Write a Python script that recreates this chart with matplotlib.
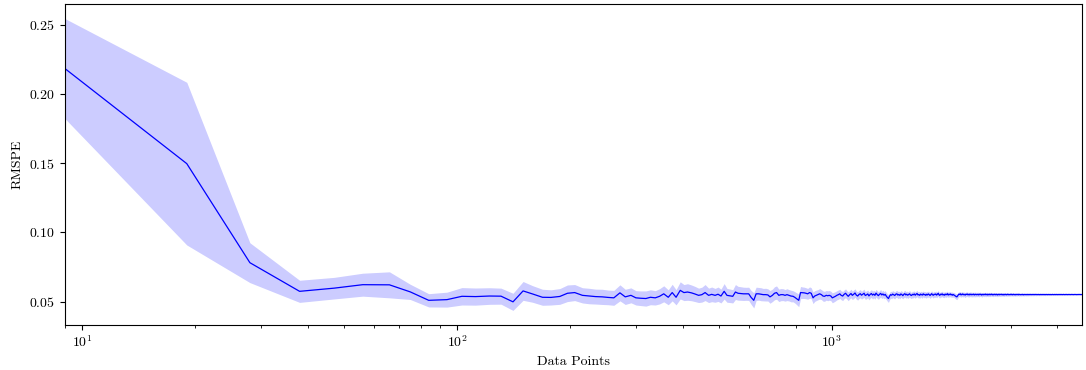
import numpy as np
import matplotlib
matplotlib.use("Agg")
import matplotlib.pyplot as plt

plt.rcParams["font.family"] = "serif"
plt.rcParams["font.serif"] = ["cmr10"]
plt.rcParams["mathtext.fontset"] = "cm"
plt.rcParams["axes.formatter.use_mathtext"] = True
plt.rcParams["font.size"] = 10

# RMSPE media por numero de pontos
rmspe = [
    0.2183, 0.1497, 0.0781, 0.0574, 0.0597, 0.0622, 0.0621, 0.0570, 0.0509, 0.0514, 0.0538,
    0.0536, 0.0540, 0.0539, 0.0498, 0.0577, 0.0555, 0.0531, 0.0530, 0.0537, 0.0560, 0.0565,
    0.0545, 0.0540, 0.0536, 0.0534, 0.0530, 0.0527, 0.0563, 0.0534, 0.0545, 0.0527,
    0.0524, 0.0522, 0.0531, 0.0527, 0.0538, 0.0556, 0.0531, 0.0565, 0.0531, 0.0581,
    0.0565, 0.0569, 0.0563, 0.0555, 0.0545, 0.0550, 0.0565, 0.0545, 0.0552, 0.0545,
    0.0553, 0.0540, 0.0574, 0.0545, 0.0542, 0.0538, 0.0569, 0.0560, 0.0558, 0.0556,
    0.0556, 0.0556, 0.0530, 0.0509, 0.0556, 0.0556, 0.0553, 0.0550, 0.0550, 0.0548,
    0.0534, 0.0545, 0.0560, 0.0565, 0.0545,
    0.0550, 0.0550, 0.0545, 0.0550, 0.0545, 0.0540, 0.0538, 0.0530, 0.0520, 0.0509,
    0.0565, 0.0564, 0.0563, 0.0560, 0.0556, 0.0565, 0.0560, 0.0527, 0.0540, 0.0545,
    0.0550, 0.0556, 0.0550, 0.0540, 0.0538, 0.0545, 0.0542, 0.0545, 0.0540, 0.0527,
    0.0532, 0.0538, 0.0545, 0.0550,
    0.0556, 0.0545, 0.0540, 0.0552, 0.0560, 0.0548, 0.0538, 0.0550, 0.0558, 0.0545,
    0.0553, 0.0562, 0.0547, 0.0540, 0.0551, 0.0557, 0.0546, 0.0553, 0.0560, 0.0544,
    0.0549, 0.0555, 0.0541, 0.0552, 0.0558, 0.0547, 0.0554, 0.0545, 0.0561, 0.0550,
    0.0543, 0.0553, 0.0559, 0.0548, 0.0555, 0.0546, 0.0552, 0.0540, 0.0530, 0.0522,
    0.0538, 0.0550, 0.0546, 0.0554, 0.0549, 0.0544, 0.0553, 0.0556, 0.0547, 0.0551,
    0.0545, 0.0555, 0.0550, 0.0543, 0.0552, 0.0557, 0.0548, 0.0553, 0.0546, 0.0551,
    0.0556, 0.0547, 0.0544, 0.0552, 0.0549, 0.0555, 0.0546, 0.0553, 0.0558, 0.0548,
    0.0551, 0.0545, 0.0554, 0.0550, 0.0547, 0.0556, 0.0549, 0.0552, 0.0545, 0.0553,
    0.0548, 0.0555, 0.0550, 0.0544, 0.0551, 0.0557, 0.0549, 0.0546, 0.0553, 0.0550,
    0.0555, 0.0547, 0.0552, 0.0560, 0.0549, 0.0545, 0.0553, 0.0550, 0.0556, 0.0548,
    0.0551, 0.0546, 0.0554, 0.0549, 0.0552, 0.0557, 0.0547, 0.0553, 0.0550, 0.0555,
    0.0548, 0.0552, 0.0546, 0.0551, 0.0547, 0.0543, 0.0540, 0.0536, 0.0534, 0.0541,
    0.0549, 0.0554, 0.0551, 0.0556, 0.0548, 0.0552, 0.0555, 0.0549, 0.0553, 0.0550,
    0.0547, 0.0553, 0.0551, 0.0555, 0.0549, 0.0552, 0.0548, 0.0554, 0.0550, 0.0553,
    0.0549, 0.0552, 0.0550, 0.0554, 0.0548, 0.0551, 0.0553, 0.0549, 0.0552, 0.0550,
    0.0553, 0.0548, 0.0551, 0.0554, 0.0550, 0.0552, 0.0547, 0.0551, 0.0553, 0.0549,
    0.0552, 0.0550, 0.0554, 0.0549, 0.0551, 0.0553, 0.0548, 0.0552, 0.0550, 0.0553,
    0.0549, 0.0551, 0.0554, 0.0550, 0.0552, 0.0548, 0.0551, 0.0553, 0.0550, 0.0552,
    0.0549, 0.0553, 0.0551, 0.0548, 0.0552, 0.0550, 0.0553, 0.0549, 0.0551, 0.0552,
    0.0550, 0.0553, 0.0549, 0.0551, 0.0552, 0.0548, 0.0551, 0.0553, 0.0550, 0.0552,
    0.0549, 0.0551, 0.0553, 0.0550, 0.0552, 0.0549, 0.0551, 0.0552, 0.0550, 0.0553,
    0.0550, 0.0552, 0.0549, 0.0551, 0.0553, 0.0550, 0.0551, 0.0549, 0.0552, 0.0550,
    0.0552, 0.0550, 0.0551, 0.0553, 0.0549, 0.0551, 0.0552, 0.0550, 0.0551, 0.0549,
    0.0551, 0.0552, 0.0550, 0.0552, 0.0549, 0.0551, 0.0550, 0.0552, 0.0551, 0.0550,
    0.0551, 0.0550, 0.0552, 0.0551, 0.0549, 0.0551, 0.0552, 0.0550, 0.0551, 0.0552,
    0.0550, 0.0551, 0.0550, 0.0552, 0.0551, 0.0550, 0.0551, 0.0552, 0.0550, 0.0551,
    0.0552, 0.0551, 0.0550, 0.0551, 0.0552, 0.0550, 0.0551, 0.0551, 0.0552, 0.0550,
    0.0551, 0.0550, 0.0552, 0.0551, 0.0550, 0.0551, 0.0552, 0.0551, 0.0550, 0.0551,
    0.0551, 0.0552, 0.0550, 0.0551, 0.0551, 0.0550, 0.0552, 0.0551, 0.0551, 0.0550,
    0.0551, 0.0552, 0.0551, 0.0550, 0.0551, 0.0551, 0.0552, 0.0550, 0.0551, 0.0551,
    0.0550, 0.0551, 0.0552, 0.0551, 0.0551, 0.0550, 0.0551, 0.0551, 0.0552, 0.0551,
    0.0550, 0.0551, 0.0551, 0.0552, 0.0551, 0.0550, 0.0551, 0.0551, 0.0551, 0.0552,
    0.0551, 0.0550, 0.0551, 0.0551, 0.0552, 0.0551, 0.0551, 0.0550, 0.0551, 0.0551,
    0.0551, 0.0552, 0.0551, 0.0551, 0.0550, 0.0551, 0.0551, 0.0551, 0.0552, 0.0551,
    0.0551, 0.0550, 0.0551, 0.0551, 0.0551, 0.0551, 0.0552, 0.0551, 0.0551, 0.0550,
    0.0551, 0.0551, 0.0551, 0.0551, 0.0552, 0.0551, 0.0551, 0.0551, 0.0550, 0.0551,
    0.0551, 0.0551, 0.0551, 0.0552, 0.0551, 0.0551, 0.0551, 0.0551, 0.0550, 0.0551,
    0.0551, 0.0551, 0.0551, 0.0551, 0.0551, 0.0552, 0.0551, 0.0551, 0.0551, 0.0551,
    0.0551, 0.0551, 0.0551, 0.0551, 0.0551,
]

# desvio padrao (meia largura da faixa)
desvio = [
    0.0362, 0.0588, 0.0144, 0.0080, 0.0078, 0.0083, 0.0094, 0.0055, 0.0048, 0.0054, 0.0063,
    0.0062, 0.0060, 0.0058, 0.0062, 0.0068, 0.0060, 0.0058, 0.0055, 0.0057, 0.0060, 0.0058,
    0.0055, 0.0056, 0.0054, 0.0055, 0.0053, 0.0054, 0.0058, 0.0055, 0.0054, 0.0052,
    0.0053, 0.0055, 0.0054, 0.0052, 0.0055, 0.0058, 0.0054, 0.0060, 0.0055, 0.0062,
    0.0058, 0.0060, 0.0057, 0.0055, 0.0052, 0.0054, 0.0058, 0.0052, 0.0053, 0.0050,
    0.0052, 0.0050, 0.0056, 0.0050, 0.0049, 0.0048, 0.0054, 0.0050, 0.0049, 0.0048,
    0.0047, 0.0048, 0.0050, 0.0055, 0.0048, 0.0046, 0.0047, 0.0045, 0.0046, 0.0044,
    0.0046, 0.0045, 0.0047, 0.0048, 0.0045,
    0.0044, 0.0043, 0.0042, 0.0043, 0.0041, 0.0042, 0.0040, 0.0041, 0.0043, 0.0046,
    0.0044, 0.0042, 0.0041, 0.0040, 0.0039, 0.0041, 0.0040, 0.0042, 0.0039, 0.0038,
    0.0037, 0.0038, 0.0036, 0.0037, 0.0036, 0.0035, 0.0036, 0.0035, 0.0034, 0.0036,
    0.0035, 0.0034, 0.0033, 0.0034,
    0.0033, 0.0032, 0.0033, 0.0031, 0.0032, 0.0031, 0.0032, 0.0030, 0.0031, 0.0030,
    0.0031, 0.0030, 0.0029, 0.0030, 0.0029, 0.0030, 0.0028, 0.0029, 0.0030, 0.0028,
    0.0029, 0.0028, 0.0029, 0.0027, 0.0028, 0.0029, 0.0027, 0.0028, 0.0027, 0.0028,
    0.0026, 0.0027, 0.0028, 0.0026, 0.0027, 0.0026, 0.0027, 0.0026, 0.0027, 0.0028,
    0.0026, 0.0025, 0.0026, 0.0025, 0.0026, 0.0025, 0.0024, 0.0025, 0.0026, 0.0024,
    0.0025, 0.0024, 0.0025, 0.0023, 0.0024, 0.0025, 0.0024, 0.0023, 0.0024, 0.0023,
    0.0024, 0.0023, 0.0022, 0.0023, 0.0024, 0.0022, 0.0023, 0.0022, 0.0023, 0.0022,
    0.0023, 0.0022, 0.0021, 0.0022, 0.0023, 0.0021, 0.0022, 0.0021, 0.0022, 0.0021,
    0.0022, 0.0021, 0.0020, 0.0021, 0.0022, 0.0020, 0.0021, 0.0020, 0.0021, 0.0020,
    0.0021, 0.0020, 0.0019, 0.0020, 0.0021, 0.0019, 0.0020, 0.0019, 0.0020, 0.0019,
    0.0020, 0.0019, 0.0018, 0.0019, 0.0020, 0.0019, 0.0018, 0.0019, 0.0018, 0.0019,
    0.0018, 0.0019, 0.0018, 0.0017, 0.0018, 0.0019, 0.0020, 0.0021, 0.0020, 0.0019,
    0.0018, 0.0017, 0.0018, 0.0017, 0.0018, 0.0017, 0.0018, 0.0017, 0.0016, 0.0017,
    0.0018, 0.0017, 0.0016, 0.0017, 0.0016, 0.0017, 0.0016, 0.0017, 0.0016, 0.0017,
    0.0016, 0.0017, 0.0016, 0.0015, 0.0016, 0.0017, 0.0016, 0.0015, 0.0016, 0.0015,
    0.0016, 0.0015, 0.0016, 0.0015, 0.0014, 0.0015, 0.0016, 0.0015, 0.0014, 0.0015,
    0.0014, 0.0015, 0.0014, 0.0015, 0.0014, 0.0015, 0.0014, 0.0013, 0.0014, 0.0015,
    0.0014, 0.0013, 0.0014, 0.0013, 0.0014, 0.0013, 0.0014, 0.0013, 0.0014, 0.0013,
    0.0013, 0.0012, 0.0013, 0.0014, 0.0013, 0.0012, 0.0013, 0.0012, 0.0013, 0.0012,
    0.0013, 0.0012, 0.0011, 0.0012, 0.0013, 0.0012, 0.0011, 0.0012, 0.0011, 0.0012,
    0.0011, 0.0012, 0.0011, 0.0012, 0.0011, 0.0010, 0.0011, 0.0012, 0.0011, 0.0010,
    0.0011, 0.0010, 0.0011, 0.0010, 0.0011, 0.0010, 0.0011, 0.0010, 0.0011, 0.0010,
    0.0010, 0.0011, 0.0010, 0.0009, 0.0010, 0.0011, 0.0010, 0.0009, 0.0010, 0.0009,
    0.0010, 0.0009, 0.0010, 0.0009, 0.0010, 0.0009, 0.0010, 0.0009, 0.0009, 0.0010,
    0.0009, 0.0009, 0.0010, 0.0009, 0.0008, 0.0009, 0.0009, 0.0008, 0.0009, 0.0009,
    0.0008, 0.0009, 0.0008, 0.0009, 0.0008, 0.0009, 0.0008, 0.0008, 0.0009, 0.0008,
    0.0008, 0.0009, 0.0008, 0.0008, 0.0007, 0.0008, 0.0008, 0.0007, 0.0008, 0.0008,
    0.0007, 0.0008, 0.0007, 0.0008, 0.0007, 0.0007, 0.0008, 0.0007, 0.0007, 0.0008,
    0.0007, 0.0007, 0.0007, 0.0008, 0.0007, 0.0007, 0.0006, 0.0007, 0.0007, 0.0007,
    0.0006, 0.0007, 0.0007, 0.0006, 0.0007, 0.0006, 0.0007, 0.0006, 0.0006, 0.0007,
    0.0006, 0.0006, 0.0007, 0.0006, 0.0006, 0.0006, 0.0007, 0.0006, 0.0006, 0.0006,
    0.0006, 0.0006, 0.0006, 0.0006, 0.0006, 0.0005, 0.0006, 0.0006, 0.0006, 0.0005,
    0.0006, 0.0006, 0.0005, 0.0006, 0.0006, 0.0005, 0.0006, 0.0005, 0.0006, 0.0005,
    0.0005, 0.0006, 0.0005, 0.0005, 0.0006, 0.0005, 0.0005, 0.0005, 0.0006, 0.0005,
    0.0005, 0.0005, 0.0005, 0.0005, 0.0005, 0.0005, 0.0005, 0.0004, 0.0005, 0.0005,
    0.0005, 0.0004, 0.0005, 0.0005, 0.0004, 0.0005, 0.0005, 0.0004, 0.0005, 0.0004,
    0.0005, 0.0004, 0.0004, 0.0005, 0.0004, 0.0004, 0.0005, 0.0004, 0.0004, 0.0004,
    0.0005, 0.0004, 0.0004, 0.0004, 0.0004, 0.0004, 0.0004, 0.0004, 0.0004, 0.0004,
    0.0004, 0.0004, 0.0004, 0.0004, 0.0004,
]

rmspe = np.array(rmspe)
desvio = np.array(desvio)
n = min(len(rmspe), len(desvio))
rmspe = rmspe[:n]
desvio = desvio[:n]

# numero de pontos (passo constante)
pontos = np.round(np.arange(1, n + 1) * 9.375)

fig, ax = plt.subplots(figsize=(10.86, 3.7), dpi=100)
fig.subplots_adjust(left=0.06, right=0.9963, bottom=0.1216, top=0.989)

ax.fill_between(pontos, rmspe - desvio, rmspe + desvio, color="blue", alpha=0.2, linewidth=0)
ax.plot(pontos, rmspe, color="blue", linewidth=0.9)

ax.set_xscale("log")
ax.set_xlim(pontos[0], pontos[-1])
ax.set_xlabel("Data Points")
ax.set_ylabel("RMSPE")

fig.savefig("out.png", dpi=100)
